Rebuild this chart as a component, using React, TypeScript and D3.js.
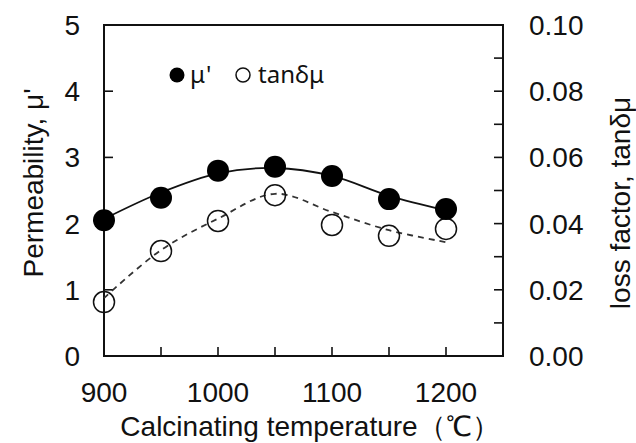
import React from "react";
import * as d3 from "d3";

const temps = [900, 950, 1000, 1050, 1100, 1150, 1200];
const muValues = [2.05, 2.39, 2.8, 2.86, 2.72, 2.37, 2.22];
const tanValues = [0.0163, 0.0317, 0.0408, 0.0486, 0.0396, 0.0363, 0.0384];
const muFit = [2.07, 2.47, 2.76, 2.84, 2.72, 2.42, 2.2];
const tanFit = [0.0175, 0.032, 0.0415, 0.049, 0.0435, 0.038, 0.0344];
const xTickLabels = [900, 1000, 1100, 1200];
const leftTickLabels = [0, 1, 2, 3, 4, 5];
const rightTickLabels = [0, 0.02, 0.04, 0.06, 0.08, 0.1];

const W = 636;
const H = 443;
const L = 104, R = 503, T = 25, B = 356;
const font = "'Liberation Sans', Arial, sans-serif";

export default function App() {
  const x = d3.scaleLinear().domain([900, 1250]).range([L, R]);
  const yL = d3.scaleLinear().domain([0, 5]).range([B, T]);
  const yR = d3.scaleLinear().domain([0, 0.1]).range([B, T]);
  const muLine = d3.line<number>().x((_, i) => x(temps[i])).y((d) => yL(d)).curve(d3.curveCatmullRom.alpha(0.5));
  const tanLine = d3.line<number>().x((_, i) => x(temps[i])).y((d) => yR(d)).curve(d3.curveCatmullRom.alpha(0.5));
  const tick = 9;
  const xMinor = d3.range(950, 1251, 50);
  const lMinor = d3.range(1, 5, 1);
  const rMinor = d3.range(1, 10, 1).map((v) => v / 100);

  return (
    <svg width={W} height={H} style={{ position: "absolute", left: 0, top: 0, background: "#fff" }} fontFamily={font}>
      <rect x={0} y={0} width={W} height={H} fill="#fff" />
      {/* ticks */}
      {xMinor.map((v) => (
        <line key={"xt" + v} x1={x(v)} x2={x(v)} y1={B} y2={B - tick} stroke="#111" strokeWidth={1.6} />
      ))}
      {lMinor.map((v) => (
        <line key={"lt" + v} x1={L} x2={L + tick} y1={yL(v)} y2={yL(v)} stroke="#111" strokeWidth={1.6} />
      ))}
      {rMinor.map((v) => (
        <line key={"rt" + v} x1={R} x2={R - tick} y1={yR(v)} y2={yR(v)} stroke="#111" strokeWidth={1.6} />
      ))}
      <rect x={L} y={T} width={R - L} height={B - T} fill="none" stroke="#111" strokeWidth={2} />
      {/* tick labels */}
      {xTickLabels.map((v) => (
        <text key={"xl" + v} x={x(v)} y={402} textAnchor="middle" fontSize={28} fill="#111">{v}</text>
      ))}
      {leftTickLabels.map((v) => (
        <text key={"ll" + v} x={80} y={yL(v)} dy="0.36em" textAnchor="end" fontSize={28} fill="#111">{v}</text>
      ))}
      {rightTickLabels.map((v) => (
        <text key={"rl" + v} x={529} y={yR(v)} dy="0.36em" textAnchor="start" fontSize={28} fill="#111">{v.toFixed(2)}</text>
      ))}
      {/* axis titles */}
      <text x={310} y={436} textAnchor="middle" fontSize={28} fill="#111">Calcinating temperature（℃）</text>
      <text transform={`translate(43,183) rotate(-90)`} textAnchor="middle" fontSize={28} fill="#111">Permeability, μ'</text>
      <text transform={`translate(630,203) rotate(-90)`} textAnchor="middle" fontSize={28} fill="#111">loss factor, tanδμ</text>
      {/* fit lines */}
      <path d={muLine(muFit) || ""} fill="none" stroke="#111" strokeWidth={1.8} />
      <path d={tanLine(tanFit) || ""} fill="none" stroke="#333" strokeWidth={1.8} strokeDasharray="6,5" />
      {/* points */}
      {tanValues.map((v, i) => (
        <circle key={"tp" + i} cx={x(temps[i])} cy={yR(v)} r={10.5} fill="none" stroke="#111" strokeWidth={1.5} />
      ))}
      {muValues.map((v, i) => (
        <circle key={"mp" + i} cx={x(temps[i])} cy={yL(v)} r={11} fill="#000" />
      ))}
      {/* legend */}
      <circle cx={177} cy={75} r={7.5} fill="#000" />
      <text x={190} y={83} fontSize={24} fill="#111" fontFamily="'Noto Sans', sans-serif">μ'</text>
      <circle cx={243} cy={75} r={7} fill="none" stroke="#111" strokeWidth={1.5} />
      <text x={258} y={83} fontSize={24} fill="#111" fontFamily="'Noto Sans', sans-serif">tanδμ</text>
    </svg>
  );
}
